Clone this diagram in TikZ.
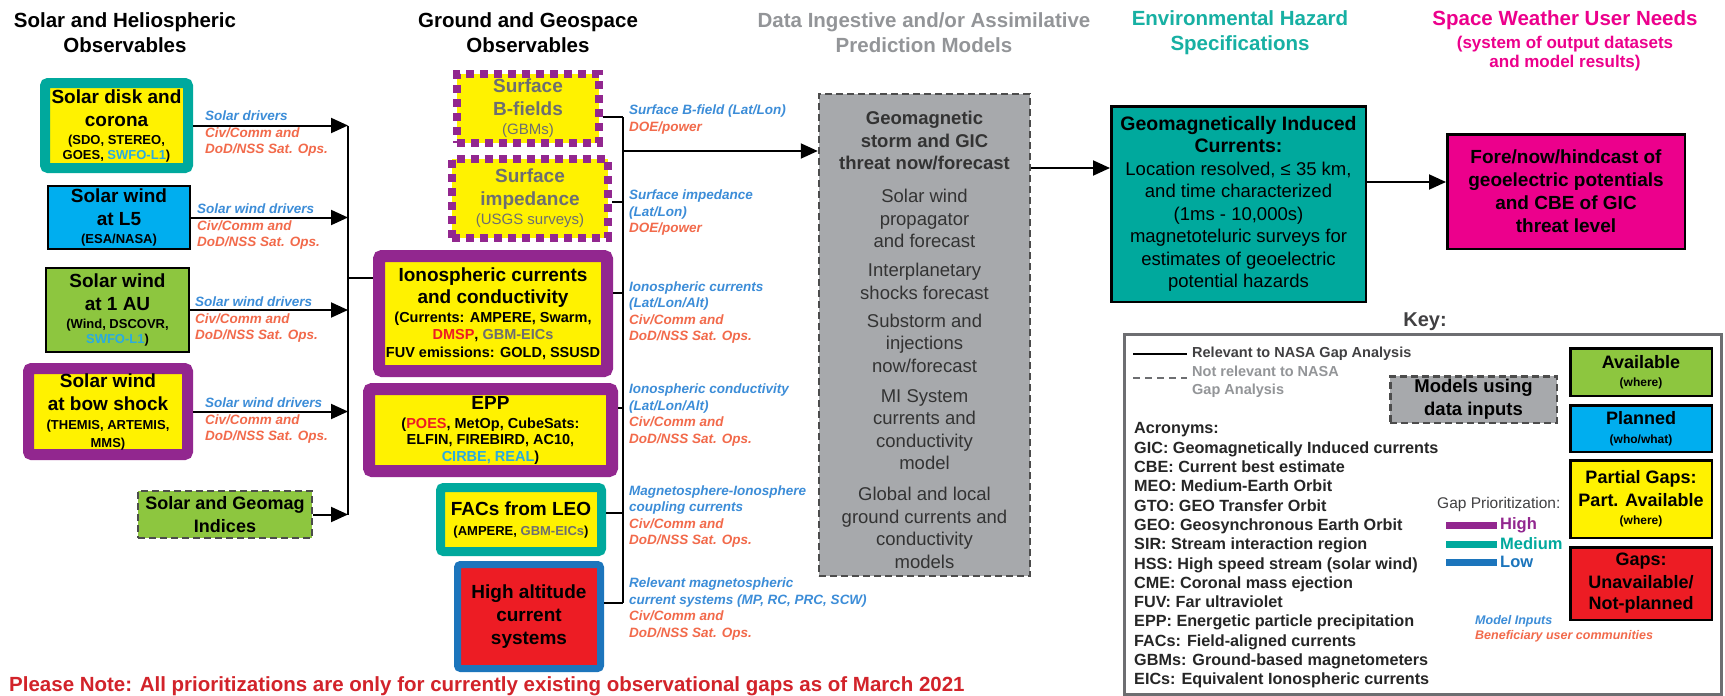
\documentclass[tikz,border=0pt]{standalone}
\usepackage{fontspec}
\setmainfont{Liberation Sans}
\usepackage{xcolor}
\usetikzlibrary{arrows.meta}
\usetikzlibrary{positioning}

\definecolor{obsyellow}{HTML}{FFF200}
\definecolor{gapteal}{HTML}{00A99D}
\definecolor{gappurple}{HTML}{92278F}
\definecolor{planblue}{HTML}{00AEEF}
\definecolor{lowblue}{HTML}{1C75BC}
\definecolor{availgreen}{HTML}{8DC63F}
\definecolor{gapred}{HTML}{ED1C24}
\definecolor{usermagenta}{HTML}{EC008C}
\definecolor{modelgray}{HTML}{A7A9AC}
\definecolor{inblue}{HTML}{3C8DD8}
\definecolor{userorange}{HTML}{F26A4B}
\definecolor{swfocyan}{HTML}{29ABE2}
\definecolor{hdrgray}{HTML}{939598}
\definecolor{hdrteal}{HTML}{17B0A3}
\definecolor{notered}{HTML}{D2232A}
\definecolor{dimtext}{HTML}{6D6E71}
\definecolor{keytext}{HTML}{414042}

\newcommand{\fsz}[2]{\fontsize{#1}{#2}\selectfont}
\newcommand{\subf}{\fsz{13}{15}}
\newcommand{\midf}{\fsz{14.5}{17}}
\newcommand{\tinyf}{\fsz{12}{14}}
\newcommand{\inp}[1]{\textcolor{inblue}{#1}}

\tikzset{
    obs/.style={draw, align=center, inner sep=0pt, font=\bfseries\fsz{19}{23}},
    heavy/.style={line width=#1, rounded corners=3pt},
    thinframe/.style={line width=2.5pt, draw=black},
    dotframe/.style={draw=gappurple, line width=8pt, dash pattern=on 8pt off 6pt},
    dashframe/.style={draw=black!70, line width=2.5pt, dash pattern=on 7pt off 4pt},
    modelbox/.style={dashframe, fill=modelgray, inner sep=0pt, align=center},
    feed/.style={line width=2pt, -{Triangle[length=17pt,width=15pt]}},
    link/.style={line width=2pt},
    hdr/.style={align=center, inner sep=0pt, font=\bfseries\fsz{20.5}{25}},
    lbl/.style={anchor=west, align=left, inner sep=0pt, text=userorange, font=\bfseries\itshape\fsz{13.5}{16.5}},
    legbox/.style={draw, line width=2.5pt, align=center, inner sep=0pt, minimum width=141.5pt, font=\bfseries\fsz{18}{22.5}},
}

\begin{document}
\begin{tikzpicture}[x=1pt, y=-1pt]
        \path[use as bounding box, fill=white] (0,0) rectangle (1725,696);

        \node[hdr] (hsolar) at (125,32.5) {Solar and Heliospheric\\Observables};
        \node[hdr] (hground) at (528,32.5) {Ground and Geospace\\Observables};
        \node[hdr, text=hdrgray] (hmodel) at (924,32.5) {Data Ingestive and/or Assimilative\\Prediction Models};
        \node[hdr, text=hdrteal] (hhazard) at (1240,32.5) {Environmental Hazard\\Specifications};
        \node[hdr, text=usermagenta] (huser) at (1565,41) {Space Weather User Needs\\[-2pt]\fsz{17}{19}(system of output datasets\\[-6pt]\fsz{17}{19}and model results)};

        \node[obs, fill=obsyellow, draw=gapteal, heavy=10pt, minimum width=143pt, minimum height=85pt] (disk) at (116.5,125.5)
            {Solar disk and\\corona\\[-5pt]\subf(SDO, STEREO,\\[-8pt]\subf GOES, \textcolor{swfocyan}{SWFO-L1})};
        \node[obs, fill=planblue, thinframe, minimum width=142pt, minimum height=63pt] (lfive) at (119,217.5)
            {Solar wind\\at L5\\[-5pt]\subf(ESA/NASA)};
        \node[obs, fill=availgreen, thinframe, minimum width=143pt, minimum height=84pt] (oneau) at (117.5,310)
            {Solar wind\\at 1 AU\\[-5pt]\subf(Wind, DSCOVR,\\[-8pt]\subf\textcolor{swfocyan}{SWFO-L1})};
        \node[obs, fill=obsyellow, draw=gappurple, heavy=11pt, minimum width=159pt, minimum height=86pt] (bow) at (108,411.5)
            {Solar wind\\at bow shock\\[-4pt]\subf(THEMIS, ARTEMIS,\\[-5pt]\subf MMS)};
        \node[obs, fill=availgreen, dashframe, minimum width=174pt, minimum height=47pt, font=\bfseries\fsz{18}{23}] (indices) at (225,514.5)
            {Solar and Geomag\\Indices};

        \node[obs, fill=obsyellow, dotframe, text=dimtext, minimum width=142pt, minimum height=69pt] (bfield) at (528,108.5)
            {Surface\\B-fields\\[-4pt]\mdseries\fsz{15}{17}(GBMs)};
        \node[obs, fill=obsyellow, dotframe, text=dimtext, minimum width=156pt, minimum height=79pt] (imped) at (530,198.5)
            {Surface\\impedance\\[-4pt]\mdseries\fsz{15}{17}(USGS surveys)};
        \node[obs, fill=obsyellow, draw=gappurple, heavy=12pt, minimum width=228pt, minimum height=115pt] (ion) at (493,313.5)
            {Ionospheric currents\\[-1pt]and conductivity\\[-4pt]\midf(Currents: AMPERE, Swarm,\\[-6pt]\midf\textcolor{gapred}{DMSP}, \textcolor{dimtext}{GBM-EICs}\\[-5pt]\midf FUV emissions: GOLD, SSUSD};
        \node[obs, fill=obsyellow, draw=gappurple, heavy=12pt, minimum width=243pt, minimum height=82pt] (epp) at (490.5,430)
            {EPP\\[-4pt]\midf(\textcolor{gapred}{POES}, MetOp, CubeSats:\\[-7pt]\midf ELFIN, FIREBIRD, AC10,\\[-6pt]\midf\textcolor{swfocyan}{CIRBE, REAL})};
        \node[obs, fill=obsyellow, draw=gapteal, heavy=9pt, minimum width=161pt, minimum height=64pt] (fac) at (521,519.5)
            {FACs from LEO\\[-3pt]\subf(AMPERE, \textcolor{dimtext}{GBM-EICs})};
        \node[obs, fill=gapred, draw=lowblue, heavy=7pt, minimum width=143pt, minimum height=104pt] (hialt) at (529,616.5)
            {High altitude\\current\\systems};

        \node[modelbox, minimum width=211pt, minimum height=482pt] (gicmodel) at (924.5,335) {};
        \node[align=center, inner sep=0pt, text=black!80, font=\fsz{18.5}{22.5}] (gicmodeltxt) at (924.5,340)
            {\textbf{Geomagnetic}\\\textbf{storm and GIC}\\\textbf{threat now/forecast}\\[10.5pt]Solar wind\\propagator\\and forecast\\[6.5pt]Interplanetary\\shocks forecast\\[5.5pt]Substorm and\\injections\\now/forecast\\[7.5pt]MI System\\currents and\\conductivity\\model\\[8.5pt]Global and local\\ground currents and\\conductivity\\models};

        \node[obs, fill=gapteal, thinframe, minimum width=254.5pt, minimum height=195.5pt, font=\fsz{18.5}{22.5}] (gic) at (1238.5,204)
            {\textbf{\fsz{19.5}{22.5}Geomagnetically Induced}\\\textbf{\fsz{19.5}{22.5}Currents:}\\Location resolved, ≤ 35 km,\\and time characterized\\(1ms - 10,000s)\\magnetoteluric surveys for\\estimates of geoelectric\\potential hazards};
        \node[obs, fill=usermagenta, thinframe, minimum width=237.5pt, minimum height=114.5pt] (user) at (1566,191.5)
            {Fore/now/hindcast of\\geoelectric potentials\\and CBE of GIC\\threat level};

        \coordinate (colL) at (348,0);
        \foreach \src in {disk,lfive,oneau,bow,indices}
            \draw[feed] (\src.east) -- (\src.east -| colL);
        \draw[link] (disk.east -| colL) -- (indices.east -| colL);
        \coordinate (ionjoin) at (348,278);
        \draw[link] (ionjoin) -- (ionjoin -| ion.west);

        \foreach \x/\y/\drv [count=\i] in {205/134/Solar drivers, 197/227/Solar wind drivers, 195/320/Solar wind drivers, 205/421/Solar wind drivers}
            \node[lbl] (drv\i) at (\x,\y) {\inp{\drv}\\Civ/Comm and\\DoD/NSS Sat. Ops.};

        \foreach \src/\yy in {bfield/117, imped/202, ion/293, epp/408, fac/513, hialt/603}{
            \coordinate (tap) at (623,\yy);
            \draw[link] (tap -| \src.east) -- (tap);
        }
        \coordinate (colMtop) at (623,117);
        \coordinate (colMbot) at (623,603);
        \draw[link] (colMtop) -- (colMbot);
        \coordinate (feedM) at (623,151);
        \draw[feed] (feedM) -- (feedM -| gicmodel.west);

        \node[lbl] (lbfield) at (629,119.5) {\inp{Surface B-field (Lat/Lon)}\\DOE/power};
        \node[lbl] (limped) at (629,213) {\inp{Surface impedance}\\\inp{(Lat/Lon)}\\DOE/power};
        \node[lbl] (lion) at (629,312.5) {\inp{Ionospheric currents}\\\inp{(Lat/Lon/Alt)}\\Civ/Comm and\\DoD/NSS Sat. Ops.};
        \node[lbl] (lepp) at (629,415) {\inp{Ionospheric conductivity}\\\inp{(Lat/Lon/Alt)}\\Civ/Comm and\\DoD/NSS Sat. Ops.};
        \node[lbl] (lfac) at (629,516.5) {\inp{Magnetosphere-Ionosphere}\\\inp{coupling currents}\\Civ/Comm and\\DoD/NSS Sat. Ops.};
        \node[lbl] (lhialt) at (629,609) {\inp{Relevant magnetospheric}\\\inp{current systems (MP, RC, PRC, SCW)}\\Civ/Comm and\\DoD/NSS Sat. Ops.};

        \coordinate (hazardrow) at (0,168);
        \draw[feed] (hazardrow -| gicmodel.east) -- (hazardrow -| gic.west);
        \coordinate (userrow) at (0,182);
        \draw[feed] (userrow -| gic.east) -- (userrow -| user.west);

        \node[anchor=center, inner sep=0pt, text=keytext, font=\bfseries\fsz{20}{24}] (keyhdr) at (1425,322) {Key:};
        \node[draw=dimtext, line width=3pt, inner sep=0pt, minimum width=597pt, minimum height=360pt] (keybox) at (1423,514.5) {};

        \node[anchor=west, inner sep=0pt, text=keytext, font=\bfseries\fsz{14.5}{18}] (relnasa) at (1192,354) {Relevant to NASA Gap Analysis};
        \node[anchor=west, align=left, inner sep=0pt, text=hdrgray, font=\bfseries\fsz{14.5}{18}] (notnasa) at (1192,382) {Not relevant to NASA\\Gap Analysis};
        \coordinate (solidstart) at (1133,354);
        \coordinate (dashstart) at (1133,378);
        \draw[link] (solidstart) -- ([xshift=-5pt]relnasa.west);
        \draw[link, dimtext, dash pattern=on 7pt off 5pt] (dashstart) -- ([xshift=-5pt]dashstart -| notnasa.west);
        \node[modelbox, minimum width=166.5pt, minimum height=46.5pt, font=\bfseries\fsz{18.5}{23}] (modelkey) at (1473.5,399.5) {Models using\\data inputs};

        \node[anchor=west, align=left, inner sep=0pt, text=black!85, font=\bfseries\fsz{16.2}{19.3}] (acro) at (1134,555.5)
            {Acronyms:\\GIC: Geomagnetically Induced currents\\CBE: Current best estimate\\MEO: Medium-Earth Orbit\\GTO: GEO Transfer Orbit\\GEO: Geosynchronous Earth Orbit\\SIR: Stream interaction region\\HSS: High speed stream (solar wind)\\CME: Coronal mass ejection\\FUV: Far ultraviolet\\EPP: Energetic particle precipitation\\FACs: Field-aligned currents\\GBMs: Ground-based magnetometers\\EICs: Equivalent Ionospheric currents};

        \node[anchor=west, inner sep=0pt, text=keytext, font=\fsz{15.5}{18}] (gapprio) at (1437,504) {Gap Prioritization:};
        \foreach \yy/\col/\lev [count=\i] in {525/gappurple/High, 544/gapteal/Medium, 562/lowblue/Low}{
            \coordinate (bar\i) at (1446,\yy);
            \node[anchor=west, inner sep=0pt, text=\col, font=\bfseries\fsz{16.5}{19}] (lev\i) at (1500,\yy) {\lev};
            \draw[line width=7pt, \col] (bar\i) -- ([xshift=-3pt]lev\i.west);
        }
        \node[anchor=west, inner sep=0pt, text=inblue, font=\bfseries\itshape\fsz{12.5}{15}] (kinputs) at (1475,621) {Model Inputs};
        \node[anchor=west, inner sep=0pt, text=userorange, font=\bfseries\itshape\fsz{12.5}{15}] (kusers) at (1475,636) {Beneficiary user communities};

        \node[legbox, fill=availgreen, minimum height=47.5pt] (avail) at (1641,372) {Available\\[-4.5pt]\tinyf(where)};
        \node[legbox, fill=planblue, minimum height=46.5pt] (planned) at (1641,428.5) {Planned\\[-4pt]\tinyf(who/what)};
        \node[legbox, fill=obsyellow, minimum height=77.5pt] (partial) at (1641,499) {Partial Gaps:\\Part. Available\\[-4pt]\tinyf(where)};
        \node[legbox, fill=gapred, minimum height=72.5pt] (gaps) at (1641,583.5) {Gaps:\\Unavailable/\\[-1pt]Not-planned};

        \node[anchor=west, inner sep=0pt, text=notered, font=\bfseries\fsz{20.5}{24}] (note) at (9,686)
            {Please Note: All prioritizations are only for currently existing observational gaps as of March 2021};
    \end{tikzpicture}
\end{document}
